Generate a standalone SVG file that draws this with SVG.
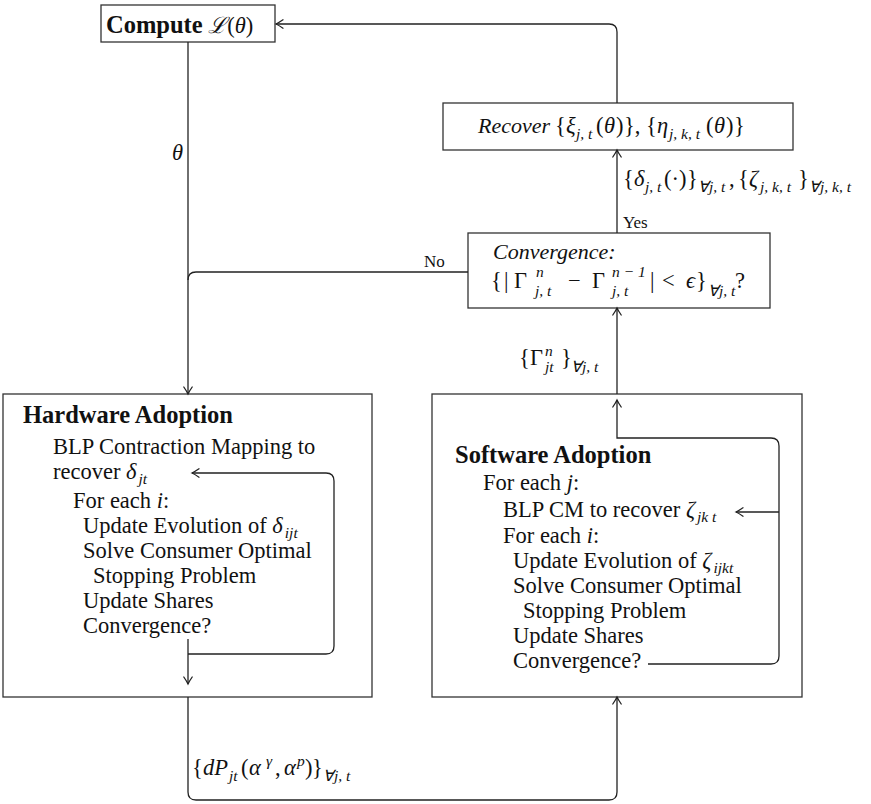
<svg xmlns="http://www.w3.org/2000/svg" width="871" height="804" viewBox="0 0 871 804">
<defs>
<style>
text{font-family:"Liberation Serif","Times New Roman",serif;font-size:22.5px;fill:#111}
.b{font-weight:bold;font-size:24.5px}
.i{font-style:italic;font-size:22px}
.m{font-style:italic;font-size:22.5px}
.s{font-size:15.5px;font-style:italic}
.sm{font-size:17px}
.box{fill:#fff;stroke:#333;stroke-width:1.3}
.ln{fill:none;stroke:#222;stroke-width:1.3}
.ar{marker-end:url(#ah)}
</style>
<marker id="ah" viewBox="-9 -6 10 12" refX="0" refY="0" markerWidth="10" markerHeight="12" markerUnits="userSpaceOnUse" orient="auto" overflow="visible">
<path d="M-7,-4.2 Q-2.6,-1.2 0,0 Q-2.6,1.2 -7,4.2" fill="none" stroke="#222" stroke-width="1.3" stroke-linecap="round"/>
</marker>
</defs>
<rect width="871" height="804" fill="#fff"/>

<g id="compute">
<rect class="box" x="101" y="5" width="174" height="37"/>
<text x="106" y="33"><tspan class="b">Compute</tspan> <tspan class="m">ℒ</tspan>(<tspan class="m">θ</tspan>)</text>
</g>

<g id="recover">
<rect class="box" x="443" y="103" width="350" height="47"/>
<text class="i" x="478" y="133">Recover</text>
<text x="555" y="133">{</text>
<text class="m" x="566" y="133">ξ</text>
<text class="s" x="576" y="139">j, t</text>
<text x="596" y="133">(</text>
<text class="m" x="604" y="133">θ</text>
<text x="616" y="133">)</text>
<text x="624" y="133">},</text>
<text x="646" y="133">{</text>
<text class="m" x="657" y="133">η</text>
<text class="s" x="669" y="139">j, k, t</text>
<text x="706" y="133">(</text>
<text class="m" x="714" y="133">θ</text>
<text x="726" y="133">)</text>
<text x="734" y="133">}</text>
</g>

<g id="convergence">
<rect class="box" x="468" y="233" width="302" height="75"/>
<text class="i" x="493" y="259">Convergence:</text>
<text x="491" y="288">{</text>
<text x="504" y="288">|</text>
<text x="514" y="288">Γ</text>
<text class="s" x="536" y="277">n</text>
<text class="s" x="535" y="296">j, t</text>
<text x="568" y="288">−</text>
<text x="592" y="288">Γ</text>
<text class="s" x="612" y="277">n − 1</text>
<text class="s" x="612" y="296">j, t</text>
<text x="650" y="288">|</text>
<text x="662" y="288">&lt;</text>
<text class="m" x="686" y="288">ϵ</text>
<text x="696" y="288">}</text>
<text class="s" x="708" y="296">∀j, t</text>
<text x="735" y="288">?</text>
</g>

<g id="hardware">
<rect class="box" x="3" y="394" width="369" height="303"/>
<text class="b" x="23" y="423">Hardware Adoption</text>
<text x="53" y="454">BLP Contraction Mapping to</text>
<text x="53" y="479">recover <tspan class="m">δ</tspan><tspan class="s" dx="2" dy="5">jt</tspan></text>
<text x="73" y="508">For each <tspan class="m">i</tspan>:</text>
<text x="83" y="533">Update Evolution of <tspan class="m">δ</tspan><tspan class="s" dx="2" dy="5">ijt</tspan></text>
<text x="83" y="558">Solve Consumer Optimal</text>
<text x="93" y="583">Stopping Problem</text>
<text x="83" y="608">Update Shares</text>
<text x="83" y="633">Convergence?</text>
</g>

<g id="software">
<rect class="box" x="432" y="394" width="370" height="303"/>
<text class="b" x="455" y="463">Software Adoption</text>
<text x="483" y="490">For each <tspan class="m">j</tspan>:</text>
<text x="503" y="517">BLP CM to recover <tspan class="m">ζ</tspan><tspan class="s" dx="2" dy="5">jk t</tspan></text>
<text x="503" y="543">For each <tspan class="m">i</tspan>:</text>
<text x="513" y="568">Update Evolution of <tspan class="m">ζ</tspan><tspan class="s" dx="2" dy="5">ijkt</tspan></text>
<text x="513" y="593">Solve Consumer Optimal</text>
<text x="523" y="618">Stopping Problem</text>
<text x="513" y="643">Update Shares</text>
<text x="513" y="668">Convergence?</text>
</g>

<g id="connectors">
<path class="ln ar" d="M188,42 V394"/>
<path class="ln" d="M468,272 H196 Q188,272 188,280"/>
<path class="ln ar" d="M617,233 V150"/>
<path class="ln ar" d="M617,103 V32 Q617,24 609,24 H276"/>
<path class="ln ar" d="M617,394 V308"/>
<path class="ln ar" d="M188,697 V792 Q188,800 196,800 H609 Q617,800 617,792 V697"/>
<path class="ln ar" d="M188,639 V684"/>
<path class="ln ar" d="M188,654 H326 Q334,654 334,646 V481 Q334,473 326,473 H192"/>
<path class="ln ar" d="M648,664 H771 Q779,664 779,656 V446 Q779,438 771,438 H617 V400"/>
<path class="ln ar" d="M779,512 H736"/>
</g>

<g id="labels">
<text class="m" x="172" y="160">θ</text>
<text class="sm" x="424" y="267">No</text>
<text class="sm" x="623" y="228">Yes</text>
<text x="623" y="186">{</text>
<text class="m" x="634" y="186">δ</text>
<text class="s" x="645" y="192">j, t</text>
<text x="664" y="186">(·)</text>
<text x="687" y="186">}</text>
<text class="s" x="698" y="192">∀j, t</text>
<text x="729" y="186">,</text>
<text x="738" y="186">{</text>
<text class="m" x="749" y="186">ζ</text>
<text class="s" x="760" y="192">j, k, t</text>
<text x="798" y="186">}</text>
<text class="s" x="809" y="192">∀j, k, t</text>
<text x="519" y="365">{</text>
<text x="530" y="365">Γ</text>
<text class="s" x="545" y="356">n</text>
<text class="s" x="545" y="372">jt</text>
<text x="561" y="365">}</text>
<text class="s" x="571" y="372">∀j, t</text>
<text x="192" y="775">{</text>
<text class="m" x="203" y="775">dP</text>
<text class="s" x="229" y="781">jt</text>
<text x="241" y="775">(</text>
<text class="m" x="249" y="775">α</text>
<text class="s" x="266" y="766">γ</text>
<text x="275" y="775">,</text>
<text class="m" x="284" y="775">α</text>
<text class="s" x="297" y="766">p</text>
<text x="305" y="775">)</text>
<text x="312" y="775">}</text>
<text class="s" x="323" y="781">∀j, t</text>
</g>
</svg>
